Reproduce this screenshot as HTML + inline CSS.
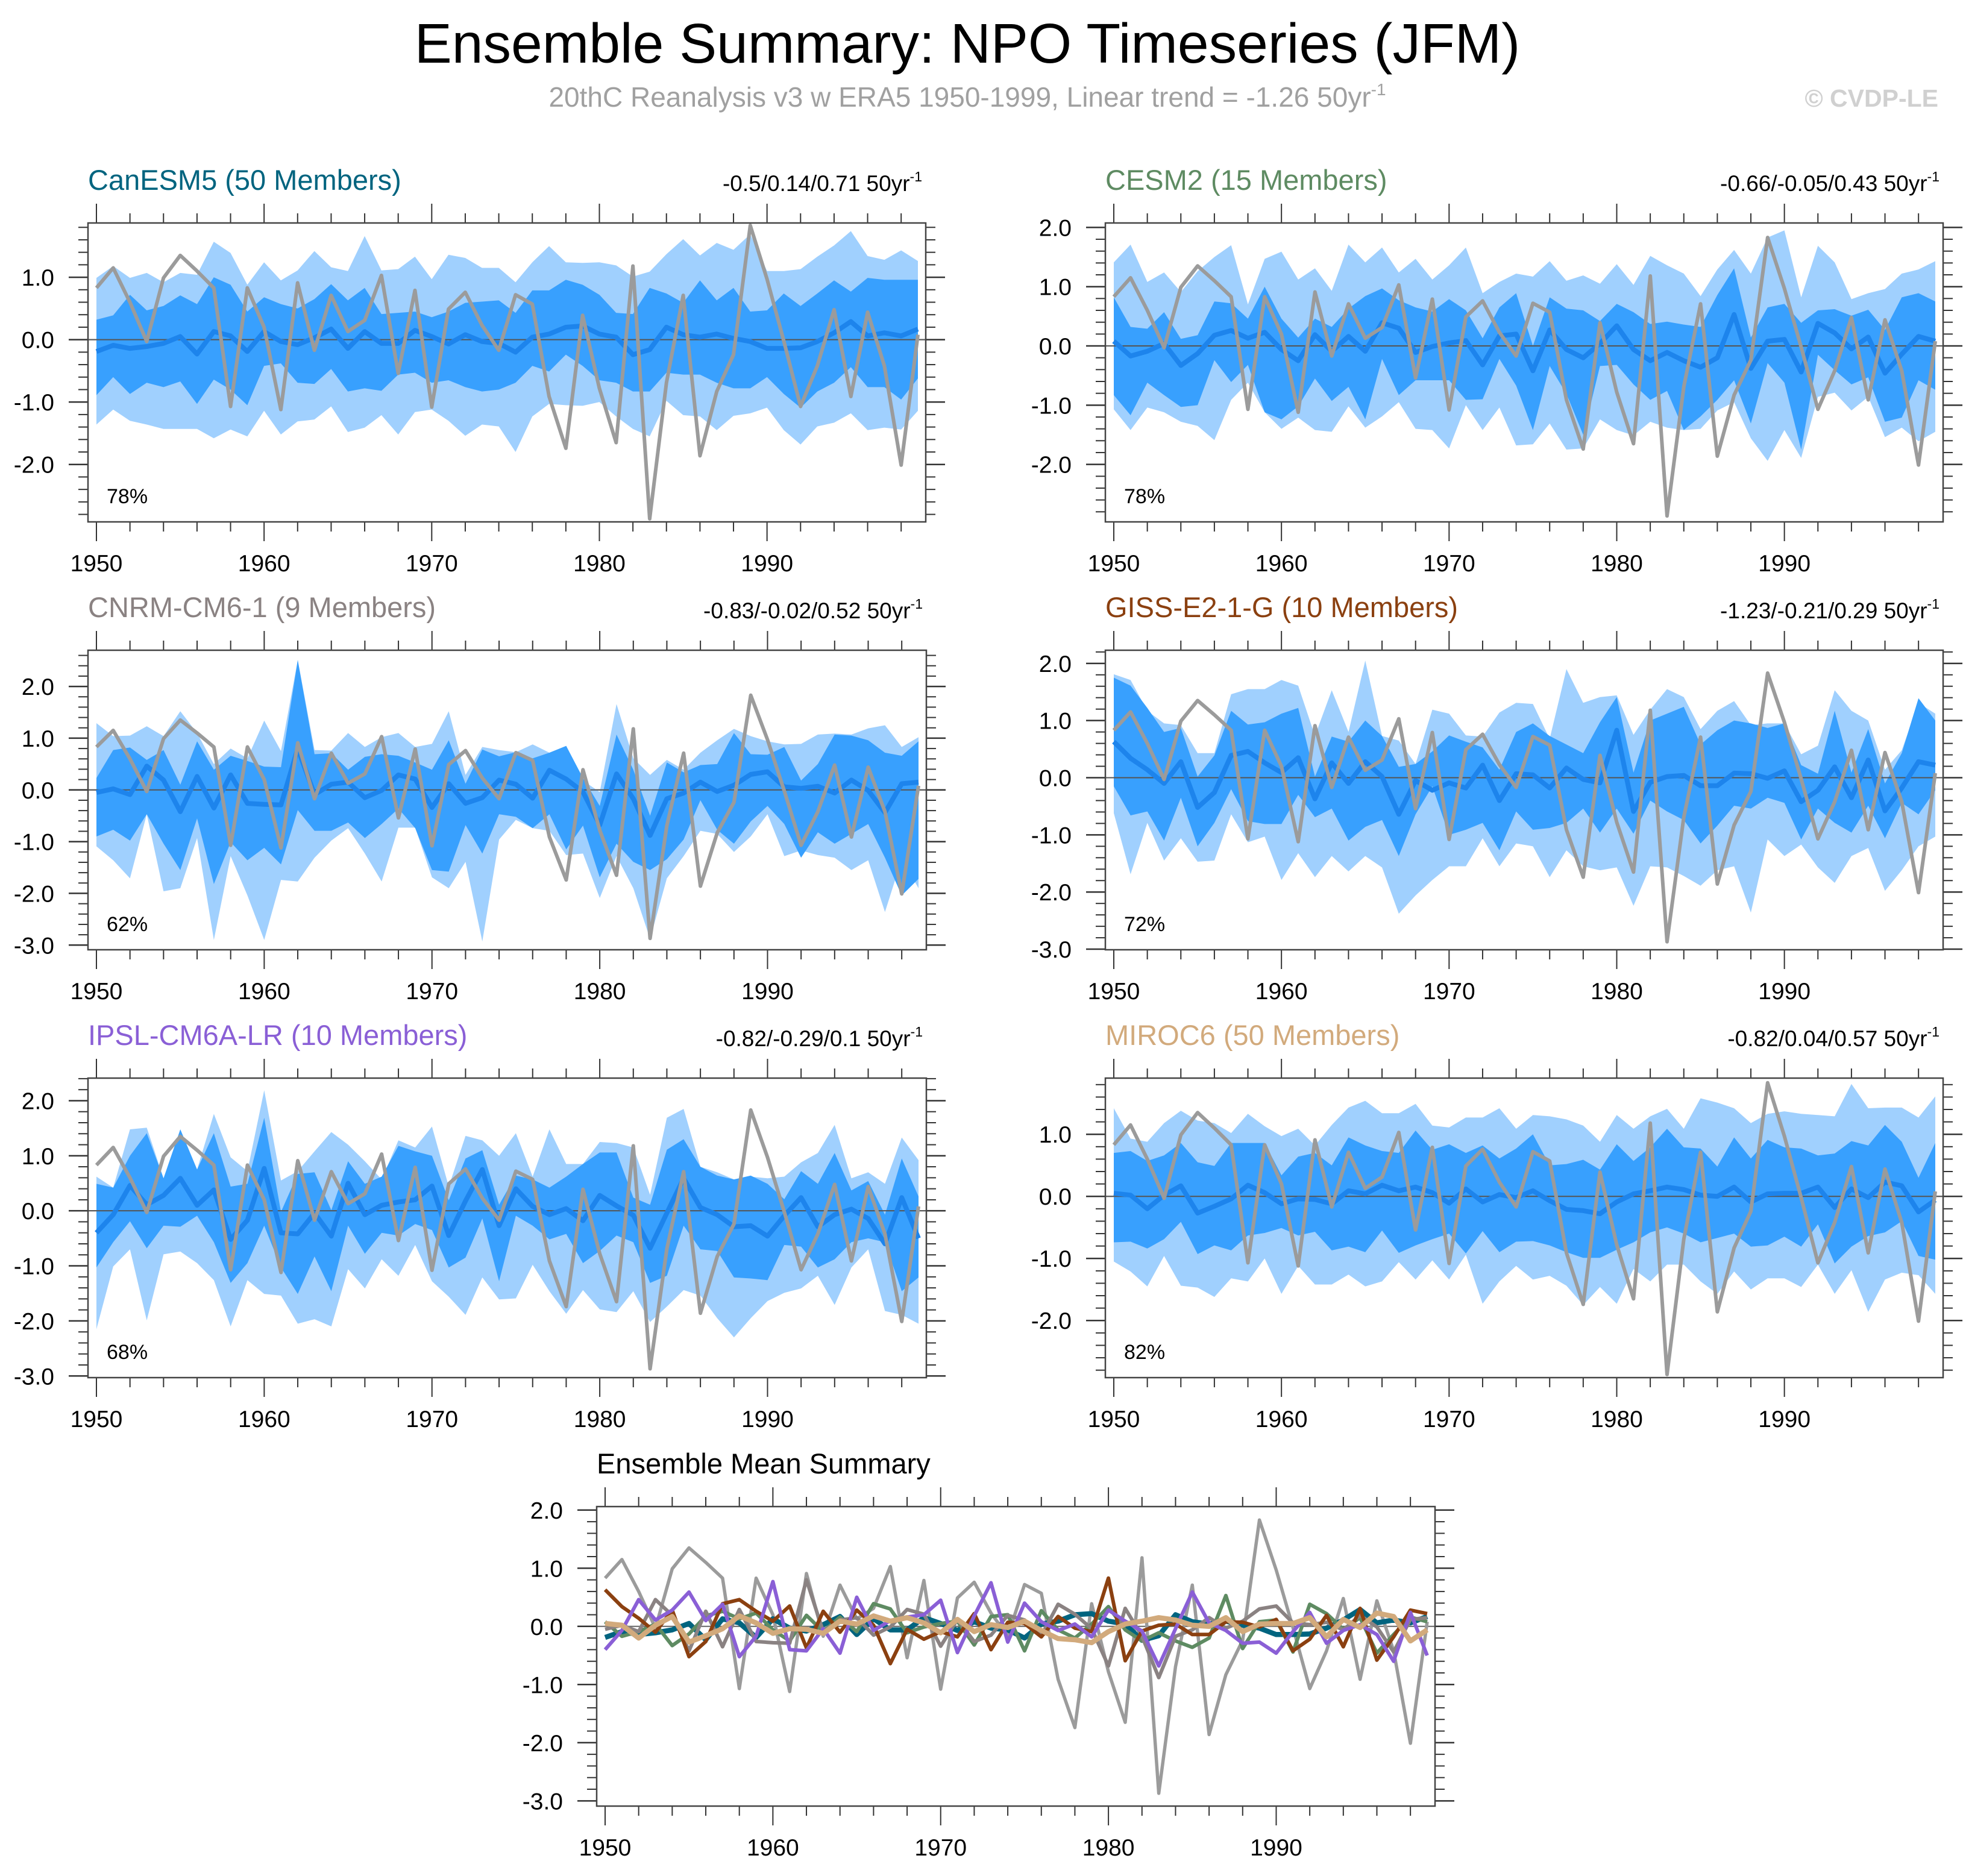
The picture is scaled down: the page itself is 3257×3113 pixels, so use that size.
<!DOCTYPE html>
<html><head><meta charset="utf-8"><title>Ensemble Summary: NPO Timeseries (JFM)</title>
<style>html,body{margin:0;padding:0;background:#fff;}svg{display:block;font-family:"Liberation Sans",Arial,sans-serif;}</style>
</head><body>
<svg id="chart" xmlns="http://www.w3.org/2000/svg" width="3257" height="3113" viewBox="0 0 3257 3113">
<rect x="0" y="0" width="3257" height="3113" fill="#fff"/>
<text x="1605" y="104" font-size="93" text-anchor="middle" fill="#000">Ensemble Summary: NPO Timeseries (JFM)</text>
<text x="1605" y="177" font-size="46" text-anchor="middle" fill="#a0a0a0">20thC Reanalysis v3 w ERA5 1950-1999, Linear trend = -1.26 50yr<tspan font-size="28" dy="-19">-1</tspan></text>
<text x="3216" y="177" font-size="41" font-weight="bold" text-anchor="end" fill="#d0d0d0">© CVDP-LE</text>
<g id="plots"></g>
</svg>
<script>
const years = [];
for (let y = 1950; y <= 1999; y++) years.push(y);
const obs = [0.83,1.15,0.6,-0.03,0.99,1.35,1.1,0.83,-1.07,0.83,0.2,-1.12,0.91,-0.17,0.71,0.13,0.31,1.03,-0.54,0.79,-1.08,0.49,0.76,0.23,-0.17,0.72,0.57,-0.91,-1.74,0.39,-0.78,-1.65,1.18,-2.87,-0.69,0.71,-1.86,-0.83,-0.24,1.83,0.97,-0.02,-1.07,-0.42,0.48,-0.91,0.44,-0.42,-2.01,0.08];

const canMean = [-0.19,-0.09,-0.14,-0.11,-0.06,0.05,-0.23,0.13,0.06,-0.19,0.13,-0.03,-0.08,0.03,0.17,-0.14,0.13,-0.06,-0.06,0.15,0.05,-0.07,0.08,-0.03,-0.06,-0.2,0.04,0.09,0.2,0.22,0.09,0.04,-0.24,-0.16,0.2,0.08,0.04,0.09,0.02,-0.03,-0.14,-0.14,-0.13,-0.03,0.11,0.29,0.06,0.11,0.06,0.17];
const canInHi = [0.32,0.39,0.72,0.47,0.54,0.71,0.57,1.0,0.88,0.45,0.68,0.57,0.5,0.65,0.89,0.63,0.83,0.41,0.43,0.45,0.36,0.45,0.59,0.61,0.63,0.43,0.79,0.79,0.96,0.88,0.72,0.43,0.41,0.83,0.74,0.59,0.95,0.63,0.83,0.45,0.47,0.74,0.54,0.74,0.95,0.77,0.99,0.96,0.96,0.96];
const canInLo = [-0.89,-0.6,-0.87,-0.69,-0.76,-0.67,-1.03,-0.64,-0.8,-1.05,-0.42,-0.38,-0.69,-0.71,-0.47,-0.83,-0.78,-0.82,-0.56,-0.53,-0.69,-0.65,-0.76,-0.83,-0.8,-0.69,-0.42,-0.51,-0.24,-0.42,-0.65,-0.69,-0.83,-0.83,-0.53,-0.56,-0.56,-0.69,-0.78,-0.78,-0.6,-0.87,-1.09,-0.83,-0.69,-0.44,-0.76,-0.76,-0.96,-0.62];
const canOutHi = [0.99,1.18,0.99,1.07,0.92,1.07,1.04,1.57,1.39,0.88,1.24,0.95,1.11,1.42,1.16,1.1,1.66,1.11,1.13,1.33,0.97,1.36,1.31,1.15,1.15,0.92,1.24,1.5,1.24,1.23,1.24,1.19,1.01,1.09,1.37,1.61,1.35,1.55,1.44,1.69,1.1,1.1,1.13,1.33,1.51,1.74,1.34,1.28,1.43,1.26];
const canOutLo = [-1.36,-1.12,-1.3,-1.36,-1.43,-1.43,-1.43,-1.58,-1.44,-1.55,-1.14,-1.52,-1.31,-1.28,-1.07,-1.48,-1.41,-1.21,-1.52,-1.16,-1.12,-1.3,-1.54,-1.36,-1.39,-1.8,-1.23,-1.03,-1.05,-1.06,-1.0,-1.23,-1.43,-1.55,-0.98,-1.21,-1.23,-1.45,-1.22,-1.18,-1.09,-1.45,-1.68,-1.39,-1.33,-1.18,-1.45,-1.41,-1.44,-1.14];

const cesmMean = [0.08,-0.17,-0.09,0.04,-0.33,-0.13,0.18,0.26,0.13,0.23,-0.06,-0.25,0.19,-0.09,0.16,-0.09,0.39,0.3,-0.11,-0.01,0.05,0.09,-0.32,0.17,0.2,-0.42,0.27,-0.06,-0.2,0.04,0.34,-0.06,-0.25,-0.11,-0.25,-0.36,-0.2,0.53,-0.38,0.08,0.11,-0.44,0.38,0.22,-0.05,0.15,-0.46,-0.14,0.16,0.08];
const cesmInHi = [0.82,0.32,0.29,0.57,0.12,0.18,0.75,0.72,0.46,1.0,0.46,0.14,0.46,0.32,0.63,0.84,0.97,0.77,0.65,0.58,0.79,0.6,0.13,0.65,0.89,0.0,0.82,0.63,0.6,0.42,0.71,0.57,0.37,0.41,0.36,0.32,0.86,1.31,0.14,0.65,0.71,0.39,0.6,0.62,0.51,0.61,0.27,0.82,0.89,0.75];
const cesmInLo = [-0.83,-1.17,-0.62,-0.83,-1.03,-1.0,-0.24,-0.61,-0.32,-1.12,-1.24,-1.02,-0.55,-0.93,-0.69,-1.24,-0.22,-0.83,-0.58,-0.58,-0.58,-0.91,-0.9,-0.22,-0.67,-1.42,-0.34,-0.81,-1.5,-0.34,-0.32,-0.65,-0.91,-0.76,-1.42,-1.19,-0.91,-0.58,-1.31,-0.29,-0.62,-1.75,-0.15,-0.41,-0.65,-0.53,-1.28,-1.21,-0.58,-0.74];
const cesmOutHi = [1.41,1.71,1.08,1.24,0.91,1.26,1.5,1.7,0.7,1.47,1.59,1.12,1.31,0.93,1.71,1.41,1.66,1.24,1.47,1.12,1.36,1.66,0.89,1.08,1.22,1.17,1.43,1.1,1.19,1.05,1.38,1.03,1.52,1.36,1.22,0.84,1.29,1.62,1.22,1.83,1.95,0.82,1.69,1.41,0.79,0.89,0.96,1.22,1.29,1.43];
const cesmOutLo = [-1.07,-1.42,-1.04,-1.12,-1.28,-1.35,-1.59,-0.91,-0.62,-1.12,-1.4,-1.21,-1.42,-1.45,-1.02,-1.38,-1.19,-0.95,-1.4,-1.42,-1.73,-1.0,-1.42,-1.04,-1.68,-1.66,-1.31,-1.75,-1.73,-1.24,-1.42,-1.51,-1.28,-1.38,-1.42,-1.4,-1.09,-0.95,-1.56,-1.94,-1.42,-1.89,-0.86,-0.79,-1.09,-0.86,-1.54,-1.38,-1.61,-1.45];

const cnrmMean = [-0.05,0.02,-0.09,0.46,0.19,-0.42,0.26,-0.35,0.29,-0.26,-0.28,-0.29,0.8,-0.09,0.11,0.15,-0.15,-0.01,0.29,0.21,-0.34,0.12,-0.26,-0.15,0.19,0.11,-0.16,0.38,0.21,-0.04,-0.68,0.31,-0.17,-0.88,-0.17,-0.06,0.15,-0.03,0.09,0.3,0.35,0.06,0.03,0.07,-0.06,0.19,-0.01,-0.44,0.12,0.15];
const cnrmInHi = [0.23,0.77,0.82,0.58,0.77,0.1,0.94,0.39,0.66,0.56,0.45,0.44,2.51,0.69,0.71,0.39,0.64,0.69,0.66,0.53,0.39,0.96,0.12,0.78,0.65,0.73,0.61,0.72,0.85,0.23,-0.31,1.07,0.39,-0.5,0.53,0.34,0.48,0.5,1.1,0.69,0.68,0.83,0.18,0.5,1.07,1.05,0.96,0.72,0.66,0.94];
const cnrmInLo = [-0.9,-0.77,-0.98,-0.47,-1.04,-1.55,-0.55,-1.82,-1.01,-1.36,-1.12,-1.44,-0.39,-0.79,-0.79,-0.63,-0.93,-0.66,-0.36,-0.74,-1.55,-1.58,-0.68,-1.23,-0.47,-0.52,-0.74,-0.47,-1.15,-0.69,-1.69,-1.04,-1.39,-1.55,-1.34,-0.96,-0.2,-0.77,-1.04,-0.61,-0.31,-0.66,-1.31,-0.82,-1.04,-0.85,-0.66,-1.31,-2.04,-1.72];
const cnrmOutHi = [1.29,1.04,1.05,1.23,1.04,1.52,1.1,0.5,0.8,0.61,1.34,0.75,2.51,0.77,0.76,1.1,0.83,1.02,1.1,0.83,0.89,1.52,0.29,0.83,0.77,0.73,0.88,0.72,0.85,0.18,-0.04,1.66,0.61,0.29,0.58,0.39,0.72,0.96,1.18,1.04,0.94,0.88,0.89,1.07,1.09,1.07,1.19,1.25,0.83,1.02];
const cnrmOutLo = [-1.09,-1.36,-1.71,-0.47,-1.96,-1.9,-0.93,-2.9,-1.28,-2.04,-2.9,-1.74,-1.77,-1.31,-0.98,-0.74,-1.23,-1.77,-0.73,-0.73,-1.69,-1.9,-1.39,-2.93,-0.96,-0.58,-0.74,-0.79,-1.26,-1.23,-2.09,-1.28,-1.9,-2.88,-1.71,-1.28,-0.79,-0.85,-1.2,-0.9,-0.47,-1.28,-1.17,-1.26,-1.31,-1.55,-1.36,-2.36,-1.34,-1.9];

const gissMean = [0.63,0.34,0.14,-0.1,0.28,-0.52,-0.26,0.39,0.46,0.26,0.09,0.35,-0.37,0.26,-0.1,0.28,0.02,-0.64,-0.05,-0.22,-0.09,-0.18,0.22,-0.4,0.07,0.05,-0.18,0.17,-0.03,-0.09,0.83,-0.59,-0.08,0.02,0.04,-0.14,-0.14,0.08,0.07,-0.01,0.12,-0.42,-0.22,0.19,-0.35,0.31,-0.58,-0.18,0.28,0.22];
const gissInHi = [1.75,1.61,1.22,0.8,0.87,0.02,0.39,1.17,0.93,0.97,1.12,1.22,0.02,0.72,0.63,1.0,0.73,0.19,0.24,0.46,0.74,0.63,0.53,0.14,0.8,0.95,0.73,0.58,0.43,0.97,1.41,0.09,1.0,1.12,1.24,0.58,0.83,1.0,0.95,0.87,0.95,0.22,0.07,1.17,0.09,0.85,-0.1,0.43,1.39,1.0];
const gissInLo = [-0.15,-0.66,-0.59,-1.1,-0.35,-1.2,-0.79,-0.2,-0.76,-0.81,-0.81,-0.3,-0.69,-0.54,-1.1,-0.86,-0.74,-1.37,-0.64,-0.15,-1.0,-0.91,-0.79,-1.27,-0.59,-0.91,-0.88,-0.79,-0.54,-0.96,-0.54,-0.98,-0.4,-0.59,-0.74,-1.15,-0.84,-0.49,-0.54,-0.35,-0.44,-1.08,-0.54,-0.79,-0.96,-0.49,-1.06,-0.44,-0.64,-0.22];
const gissOutHi = [1.81,1.71,1.17,0.95,0.92,0.43,0.43,1.46,1.55,1.55,1.71,1.61,0.73,1.53,0.8,2.05,0.73,0.65,0.24,1.19,1.12,0.74,0.72,1.14,1.31,1.29,0.68,1.9,1.31,1.41,1.44,0.75,1.19,1.55,1.41,0.85,1.17,1.34,0.92,0.95,0.95,0.41,0.56,1.53,1.17,1.0,0.14,0.48,1.31,1.12];
const gissOutLo = [-0.62,-1.69,-0.79,-1.45,-1.06,-1.47,-1.45,-0.64,-1.13,-1.03,-1.79,-1.32,-1.74,-1.37,-1.64,-1.37,-1.57,-2.38,-2.06,-1.79,-1.55,-1.55,-1.06,-1.55,-1.15,-1.2,-1.74,-1.27,-1.55,-1.62,-1.57,-2.24,-1.55,-1.57,-1.72,-1.89,-1.62,-1.55,-2.36,-1.08,-1.37,-1.17,-1.57,-1.84,-1.37,-1.23,-1.98,-1.62,-1.2,-1.03];

const ipslMean = [-0.4,-0.07,0.46,0.11,0.28,0.59,0.1,0.38,-0.52,-0.17,0.77,-0.4,-0.42,-0.04,-0.46,0.5,-0.07,0.1,0.16,0.2,0.45,-0.45,0.18,0.75,-0.27,0.4,0.08,-0.07,0.04,-0.18,0.28,0.09,-0.08,-0.68,-0.04,0.59,0.06,-0.07,-0.29,-0.27,-0.46,-0.09,0.24,-0.29,-0.07,0.03,-0.14,-0.6,0.24,-0.5];
const ipslInHi = [0.49,0.42,1.0,1.41,0.59,1.48,0.75,1.41,0.44,0.49,1.69,-0.02,0.67,0.7,0.01,0.9,0.49,0.62,1.18,1.08,1.0,0.19,0.95,1.1,0.11,0.64,0.57,0.42,0.62,0.85,1.06,1.06,0.24,0.11,1.11,1.3,0.8,0.64,0.57,0.64,0.49,0.21,0.72,0.49,1.05,0.37,0.54,-0.07,0.95,0.26];
const ipslInLo = [-1.03,-0.57,-0.19,-0.68,-0.27,-0.29,-0.09,-0.57,-1.31,-0.95,-0.27,-1.03,-1.51,-0.83,-1.46,-0.27,-0.78,-0.4,-0.45,-0.24,-0.35,-1.03,-0.85,-0.14,-1.28,-0.09,-0.27,-0.52,-0.42,-0.95,-0.73,-0.45,-0.57,-1.31,-1.18,-0.27,-0.7,-0.73,-1.21,-1.23,-1.26,-0.62,-0.65,-1.03,-0.88,-0.57,-0.5,-0.57,-1.46,-1.21];
const ipslOutHi = [0.62,0.42,1.48,1.51,0.59,1.3,0.75,1.76,0.97,0.72,2.19,0.55,0.72,1.08,1.43,1.2,0.9,0.57,1.28,1.15,1.53,0.44,1.36,1.28,1.0,1.41,0.62,1.48,0.85,0.85,1.25,1.23,1.15,0.29,1.69,1.85,0.8,0.7,0.57,0.62,0.59,0.62,0.88,1.05,1.56,0.59,0.7,0.49,1.33,0.92];
const ipslOutLo = [-2.15,-1.01,-0.7,-1.99,-0.79,-0.74,-0.95,-1.26,-2.1,-1.26,-1.51,-1.54,-2.05,-1.97,-2.1,-1.06,-1.41,-0.88,-1.18,-0.62,-1.28,-1.56,-1.89,-1.21,-1.61,-1.59,-0.98,-1.46,-1.87,-1.44,-1.79,-1.84,-1.46,-2.02,-1.74,-1.44,-1.54,-1.95,-2.3,-1.95,-1.64,-1.49,-1.41,-1.18,-1.71,-1.03,-0.7,-1.82,-1.89,-2.05];

const mirocMean = [0.05,0.02,-0.2,0.02,0.17,-0.27,-0.16,-0.04,0.18,0.06,-0.12,-0.04,-0.05,-0.12,0.09,0.04,0.18,0.09,0.15,0.06,-0.11,0.12,-0.09,0.03,-0.02,0.09,-0.07,-0.21,-0.23,-0.28,-0.09,0.04,0.09,0.15,0.11,0.02,0.0,0.15,-0.09,0.04,0.05,0.05,0.15,-0.18,0.12,-0.02,0.23,0.17,-0.25,-0.06];
const mirocInHi = [0.7,0.73,0.57,0.66,0.86,0.55,0.49,0.86,0.86,0.86,0.34,0.64,0.7,0.5,0.95,0.82,0.73,0.7,1.06,0.75,0.84,0.7,0.82,0.61,0.77,1.0,0.5,0.52,0.59,0.43,0.84,0.57,0.79,1.09,0.79,0.77,0.48,0.95,0.61,0.91,0.79,0.77,0.66,0.69,0.89,0.82,1.15,0.88,0.3,0.86];
const mirocInLo = [-0.74,-0.73,-0.84,-0.69,-0.41,-0.93,-0.79,-0.87,-0.63,-0.59,-0.51,-0.63,-0.57,-0.87,-0.81,-0.9,-0.55,-0.91,-0.79,-0.69,-0.6,-0.92,-0.56,-0.9,-0.73,-0.72,-0.79,-0.9,-0.99,-0.99,-0.86,-0.74,-0.58,-0.5,-0.6,-0.74,-0.67,-0.6,-0.81,-0.79,-0.65,-0.81,-0.45,-1.08,-0.81,-0.64,-0.58,-0.4,-0.96,-1.02];
const mirocOutHi = [1.42,0.93,0.88,1.18,1.38,1.22,1.18,1.02,1.33,1.13,0.97,1.09,0.82,1.15,1.43,1.54,1.34,1.34,1.49,1.14,1.11,1.27,1.27,1.42,1.09,1.31,1.29,1.24,1.14,0.88,1.31,1.09,1.29,1.41,1.09,1.58,1.51,1.42,1.18,1.33,1.37,1.33,1.31,1.29,1.81,1.42,1.43,1.43,1.27,1.61];
const mirocOutLo = [-1.05,-1.21,-1.45,-0.96,-1.44,-1.47,-1.62,-1.32,-1.37,-1.0,-1.57,-1.12,-1.42,-1.42,-1.26,-1.45,-1.37,-1.06,-1.34,-1.03,-1.34,-0.94,-1.73,-1.37,-1.12,-1.34,-1.28,-1.44,-1.75,-1.46,-1.73,-1.17,-1.37,-1.1,-1.1,-1.37,-1.57,-1.21,-1.5,-1.32,-1.32,-1.46,-1.1,-1.57,-1.19,-1.86,-1.34,-1.23,-1.27,-1.57];

const panelTitles = ['CanESM5 (50 Members)','CESM2 (15 Members)','CNRM-CM6-1 (9 Members)','GISS-E2-1-G (10 Members)','IPSL-CM6A-LR (10 Members)','MIROC6 (50 Members)'];
const trendLabels = ['-0.5/0.14/0.71 50yr','-0.66/-0.05/0.43 50yr','-0.83/-0.02/0.52 50yr','-1.23/-0.21/0.29 50yr','-0.82/-0.29/0.1 50yr','-0.82/0.04/0.57 50yr'];
const pctLabels = ['78%','78%','62%','72%','68%','82%'];
const yRanges = [[-2.92,1.87],[-2.97,2.075],[-3.09,2.70],[-3.01,2.23],[-3.03,2.41],[-2.92,1.905]];

const NS = 'http://www.w3.org/2000/svg';
const root = document.getElementById('plots');
function mk(tag, attrs, parent) {
  const e = document.createElementNS(NS, tag);
  for (const k in attrs) e.setAttribute(k, attrs[k]);
  (parent || root).appendChild(e);
  return e;
}

const modelColors = ['#00647f','#5e8b62','#8a8282','#8b4010','#8a5fd6','#d2aa7c'];
const meanSets = [canMean,cesmMean,cnrmMean,gissMean,ipslMean,mirocMean];
const bandSets = [[canInHi,canInLo,canOutHi,canOutLo],[cesmInHi,cesmInLo,cesmOutHi,cesmOutLo],[cnrmInHi,cnrmInLo,cnrmOutHi,cnrmOutLo],[gissInHi,gissInLo,gissOutHi,gissOutLo],[ipslInHi,ipslInLo,ipslOutHi,ipslOutLo],[mirocInHi,mirocInLo,mirocOutHi,mirocOutLo]];
const boxes = [[146,1536,370,866],[1834,3224,370,866],[146,1537,1079,1576],[1834,3224,1079,1576],[146,1537,1789,2286],[1834,3224,1789,2286]];

function drawAxes(g, L, R, T, B, ymin, ymax) {
  const xs = y => (L + 14) + (y - 1950) * ((R - 13) - (L + 14)) / 49;
  const ys = v => B - (v - ymin) * (B - T) / (ymax - ymin);
  for (let k = Math.ceil(ymin * 5); k <= Math.floor(ymax * 5); k++) {
    const v = k / 5, yy = ys(v);
    const major = (k % 5 === 0);
    const len = major ? 32 : 16;
    const t1 = mk('line', {x1: L - len, x2: L, y1: yy, y2: yy, stroke: '#333', 'stroke-width': major ? 2.5 : 2}, g);
    
    
    const t2 = mk('line', {x1: R, x2: R + len, y1: yy, y2: yy, stroke: '#333', 'stroke-width': major ? 2.5 : 2}, g);
    
    
    if (major) {
      const lb = mk('text', {x: L - 56, y: yy + 14, 'font-size': 39, 'text-anchor': 'end', fill: '#000'}, g);
      lb.textContent = v.toFixed(1);
      
      
    }
  }
  for (let y = 1950; y <= 1999; y += 2) {
    const major = (y % 10 === 0);
    const len = major ? 32 : 16;
    const xx = xs(y);
    const t1 = mk('line', {x1: xx, x2: xx, y1: T - len, y2: T, stroke: '#333', 'stroke-width': 2}, g);
    
    
    const t2 = mk('line', {x1: xx, x2: xx, y1: B, y2: B + len, stroke: '#333', 'stroke-width': 2}, g);
    
    
    if (major) {
      const lb = mk('text', {x: xx, y: B + 82, 'font-size': 39, 'text-anchor': 'middle', fill: '#000'}, g);
      lb.textContent = String(y);
      
      
    }
  }
  const zl = mk('line', {x1: L, x2: R, y1: ys(0), y2: ys(0), stroke: '#666', 'stroke-width': 2}, g);
  
  
  return {xs, ys};
}

function bandPts(hi, lo, xs, ys) {
  const a = years.map((y, i) => xs(y) + ',' + ys(hi[i]));
  const b = years.map((y, i) => xs(y) + ',' + ys(lo[i])).reverse();
  return a.concat(b).join(' ');
}
function linePts(vals, xs, ys) {
  return years.map((y, i) => xs(y) + ',' + ys(vals[i])).join(' ');
}

for (let p = 0; p < 6; p++) {
  const [L, R, T, B] = boxes[p];
  const [ymin, ymax] = yRanges[p];
  const g = mk('g', {});
  
  
  const title = mk('text', {x: L, y: T - 55, 'font-size': 47, fill: modelColors[p]}, g);
  title.textContent = panelTitles[p];
  
  
  const tr = mk('text', {x: R - 6, y: T - 53, 'font-size': 37, 'text-anchor': 'end', fill: '#000'}, g);
  tr.textContent = trendLabels[p];
  const sup = mk('tspan', {'font-size': 23, dy: -16}, tr);
  sup.textContent = '-1';
  
  
  const ax = drawAxes(g, L, R, T, B, ymin, ymax);
  const [ih, il, oh, ol] = bandSets[p];
  const ob = mk('polygon', {points: bandPts(oh, ol, ax.xs, ax.ys), fill: '#a0d0fe'}, g);
  
  
  const ib = mk('polygon', {points: bandPts(ih, il, ax.xs, ax.ys), fill: '#38a0fe'}, g);
  
  
  const zl = mk('line', {x1: L, x2: R, y1: ax.ys(0), y2: ax.ys(0), stroke: '#555', 'stroke-width': 2}, g);
  
  
  const ml = mk('polyline', {points: linePts(meanSets[p], ax.xs, ax.ys), fill: 'none', stroke: '#1d84ec', 'stroke-width': 8, 'stroke-linejoin': 'round'}, g);
  
  
  const gl = mk('polyline', {points: linePts(obs, ax.xs, ax.ys), fill: 'none', stroke: '#9b9b9b', 'stroke-width': 6, 'stroke-linejoin': 'round'}, g);
  
  
  const box = mk('rect', {x: L, y: T, width: R - L, height: B - T, fill: 'none', stroke: '#444', 'stroke-width': 2.5}, g);
  
  
  const pc = mk('text', {x: L + 31, y: B - 31, 'font-size': 34, fill: '#000'}, g);
  pc.textContent = pctLabels[p];
  
  
}

{
  const L = 990, R = 2381, T = 2500, B = 2997;
  const g = mk('g', {});
  
  
  const title = mk('text', {x: L, y: T - 55, 'font-size': 47, fill: '#000'}, g);
  title.textContent = 'Ensemble Mean Summary';
  
  
  const ax = drawAxes(g, L, R, T, B, -3.09, 2.06);
  const gl = mk('polyline', {points: linePts(obs, ax.xs, ax.ys), fill: 'none', stroke: '#9b9b9b', 'stroke-width': 5.5, 'stroke-linejoin': 'round'}, g);
  
  
  for (let p = 0; p < 6; p++) {
    const w = (p === 0 || p === 5) ? 8.5 : 6;
    const l = mk('polyline', {points: linePts(meanSets[p], ax.xs, ax.ys), fill: 'none', stroke: modelColors[p], 'stroke-width': w, 'stroke-linejoin': 'round'}, g);
    
    
  }
  const box = mk('rect', {x: L, y: T, width: R - L, height: B - T, fill: 'none', stroke: '#444', 'stroke-width': 2.5}, g);
  
  
}
</script>
</body></html>
